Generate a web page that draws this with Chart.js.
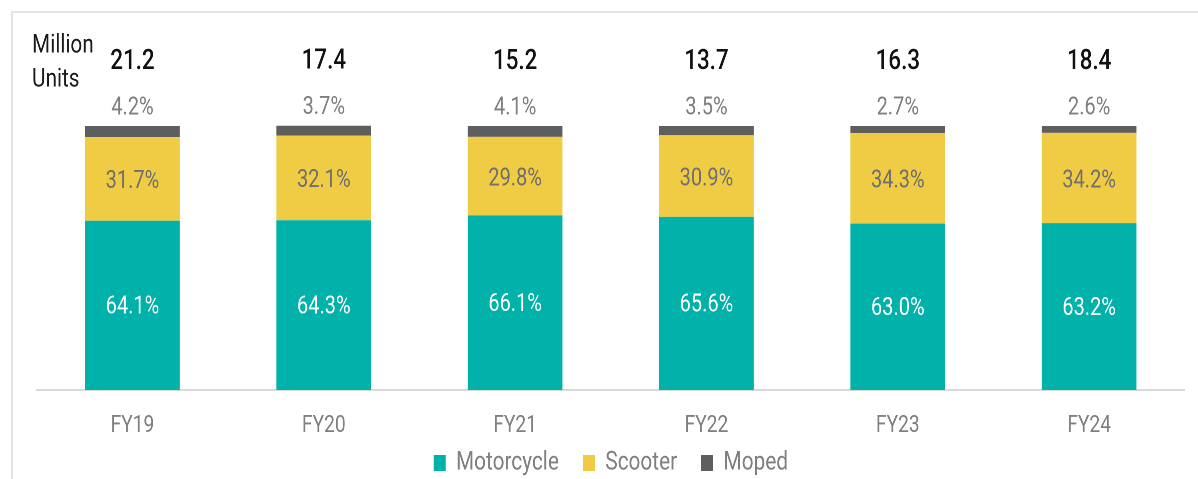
<!DOCTYPE html>
<html>
<head>
<meta charset="utf-8">
<script src="https://cdn.jsdelivr.net/npm/chart.js@4.4.1/dist/chart.umd.min.js"></script>
<style>
  html, body { margin:0; padding:0; background:#fff; overflow:hidden; width:1198px; height:479px; }
  #frame { position:absolute; left:11px; top:11px; width:1200px; height:480px;
           border-top:2px solid #e4e4e4; border-left:2px solid #e4e4e4; box-sizing:border-box; }
  #wrap { position:absolute; left:0; top:0; width:1498px; height:479px;
          transform:scaleX(0.8); transform-origin:0 0; }
</style>
</head>
<body>
<div id="frame"></div>
<div id="wrap"><canvas id="c" width="1498" height="479" style="width:1498px;height:479px"></canvas></div>
<script>
const categories = ['FY19','FY20','FY21','FY22','FY23','FY24'];
const motorcycle = [64.1, 64.3, 66.1, 65.6, 63.0, 63.2];
const scooter    = [31.7, 32.1, 29.8, 30.9, 34.3, 34.2];
const moped      = [4.2, 3.7, 4.1, 3.5, 2.7, 2.6];
const totals     = [21.2, 17.4, 15.2, 13.7, 16.3, 18.4];
const seriesNames = ['Motorcycle','Scooter','Moped'];
const unitLabel = ['Million','Units'];

const COLORS = { motorcycle:'#00B2A9', scooter:'#F0CB44', moped:'#5E5E5E' };
Chart.defaults.font.family = 'Roboto, "Open Sans", sans-serif';

const fmt = v => v.toFixed(1) + '%';

const noClipTicks = {
  id: 'noClipTicks',
  beforeDraw(chart) {
    const x = chart.scales.x;
    if (x) x._computeLabelArea = () => undefined;
  }
};

const labelPlugin = {
  id: 'barLabels',
  afterDatasetsDraw(chart) {
    const ctx = chart.ctx;
    const m0 = chart.getDatasetMeta(0), m1 = chart.getDatasetMeta(1), m2 = chart.getDatasetMeta(2);
    ctx.save();
    ctx.textAlign = 'center';
    ctx.textBaseline = 'middle';
    categories.forEach((c, i) => {
      const b0 = m0.data[i], b1 = m1.data[i], b2 = m2.data[i];
      ctx.font = '25px Roboto';
      ctx.fillStyle = '#ffffff';
      ctx.fillText(fmt(motorcycle[i]), b0.x, (b0.y + b0.base) / 2 + 2);
      ctx.fillStyle = '#707070';
      ctx.fillText(fmt(scooter[i]), b1.x, (b1.y + b1.base) / 2 + 3);
      ctx.fillStyle = '#7f7f7f';
      ctx.fillText(fmt(moped[i]), b2.x, b2.y - 18);
      ctx.font = '500 28px Roboto';
      ctx.fillStyle = '#111111';
      ctx.fillText(totals[i].toFixed(1), b2.x, b2.y - 64);
    });
    ctx.textAlign = 'left';
    ctx.font = '26px Roboto';
    ctx.fillStyle = '#1a1a1a';
    ctx.fillText(unitLabel[0], 40, 46);
    ctx.fillText(unitLabel[1], 40, 80);
    ctx.restore();
  }
};

new Chart(document.getElementById('c'), {
  type: 'bar',
  data: {
    labels: categories,
    datasets: [
      { label: seriesNames[0], data: motorcycle, backgroundColor: COLORS.motorcycle },
      { label: seriesNames[1], data: scooter, backgroundColor: COLORS.scooter },
      { label: seriesNames[2], data: moped, backgroundColor: COLORS.moped }
    ]
  },
  options: {
    responsive: false,
    animation: false,
    devicePixelRatio: 2,
    clip: false,
    categoryPercentage: 1,
    barPercentage: 0.495,
    layout: { padding: { left: 46, right: 17, top: 126, bottom: -7 } },
    scales: {
      x: {
        stacked: true,
        grid: { display: false, drawTicks: false },
        border: { display: true, color: '#d9d9d9', width: 2 },
        ticks: { color: '#7f7f7f', font: { size: 24 }, padding: 21.6, maxRotation: 0 },
        afterFit(s) { s.height = 30; }
      },
      y: {
        stacked: true, display: false, min: 0, max: 100
      }
    },
    plugins: {
      legend: {
        position: 'bottom',
        labels: { color: '#7f7f7f', font: { size: 26 }, boxWidth: 15, boxHeight: 16, padding: 30 }
      },
      tooltip: { enabled: false }
    }
  },
  plugins: [noClipTicks, labelPlugin]
});
</script>
</body>
</html>
